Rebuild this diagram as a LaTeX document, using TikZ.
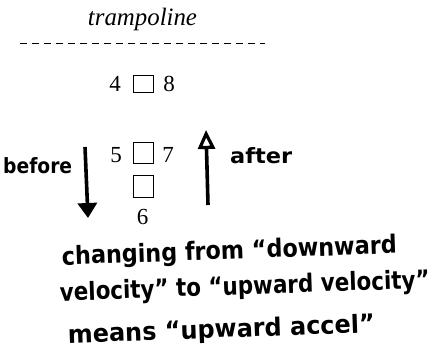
\documentclass[tikz,border=0pt]{standalone}
\usepackage{fontspec}
\setmainfont{Liberation Serif}
\newfontfamily\hand{DejaVu Sans Condensed}
\usetikzlibrary{arrows.meta}
\tikzset{
  num/.style={anchor=base, inner sep=0pt, font=\fontsize{23}{23}\selectfont},
  cell/.style={draw, line width=0.9pt},
  handtxt/.style={anchor=base west, inner sep=0pt, rotate=2, font=\hand\bfseries\fontsize{25}{25}\selectfont},
  smallhand/.style={anchor=base west, inner sep=0pt, font=\hand\bfseries\fontsize{21}{21}\selectfont},
  bigarrow/.style={line width=3.6pt},
}
\begin{document}
\begin{tikzpicture}[x=1pt,y=-1pt]
\useasboundingbox (0,0) rectangle (441,360);
% title and trampoline line
\node[anchor=base, inner sep=0pt, font=\itshape\fontsize{25}{25}\selectfont] (title) at (142.5,25) {\resizebox{109pt}{\height}{trampoline}};
\coordinate (dl) at (20,43);
\coordinate (dr) at (265,43);
\draw[line width=1pt, dash pattern=on 7pt off 5pt] (dl) -- (dr);
% row 1
\node[num] (n4) at (115,91) {4};
\draw[cell] (133,75) rectangle (153,92);
\node[num] (n8) at (169,91) {8};
% row 2
\node[num] (n5) at (116,162) {5};
\draw[cell] (133,142) rectangle (153,163);
\node[num] (n7) at (168,162) {7};
% box 2
\draw[cell] (133,175) rectangle (153,197);
\node[num] (n6) at (142.5,224) {6};
% arrows
\coordinate (da) at (85,147);
\coordinate (db) at (88,218);
\draw[bigarrow, -{Triangle[width=19pt,length=15pt]}] (da) -- (db);
\coordinate (ua) at (208,205);
\coordinate (ub) at (206,130);
\draw[bigarrow, -{Triangle[open,width=17pt,length=19pt,line width=3.2pt]}] (ua) -- (ub);
% labels
\node[smallhand] (before) at (3,173) {\resizebox{69pt}{\height}{before}};
\node[smallhand] (after) at (230,163) {\resizebox{62pt}{\height}{after}};
% handwritten note
\node[handtxt] (l1) at (62,265) {\resizebox{335pt}{\height}{changing from “downward}};
\node[handtxt] (l2) at (60,301) {\resizebox{370pt}{\height}{velocity” to “upward velocity”}};
\node[handtxt] (l3) at (68,343) {\resizebox{307pt}{\height}{means “upward accel”}};
\end{tikzpicture}
\end{document}
